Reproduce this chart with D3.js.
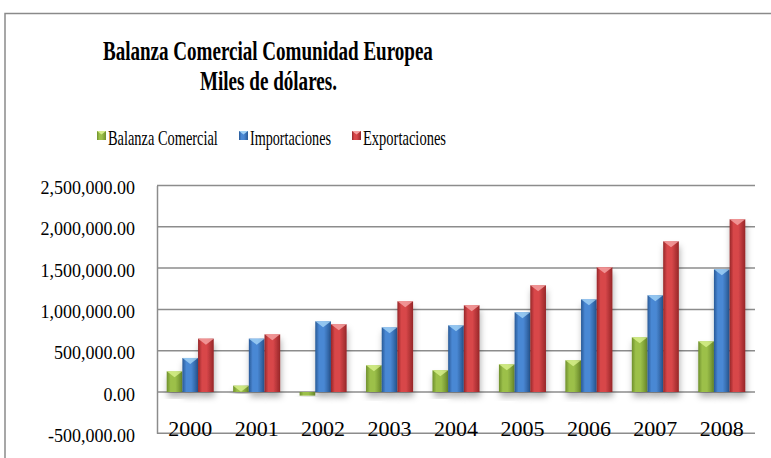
<!DOCTYPE html>
<html>
<head>
<meta charset="utf-8">
<script src="https://cdn.jsdelivr.net/npm/d3@7"></script>
<style>
  body { margin: 0; background: #fff; }
  text { font-family: "Liberation Serif", "Times New Roman", serif; fill: #000; }
</style>
</head>
<body>
<div id="chart"></div>
<script>
// data (miles de dolares)
var years = ["2000","2001","2002","2003","2004","2005","2006","2007","2008"];
var seriesNames = ["Balanza Comercial", "Importaciones", "Exportaciones"];
var balanza = [250000, 77000, -44000, 323000, 263000, 335000, 384000, 662000, 614000];
var importaciones = [412000, 646000, 856000, 783000, 807000, 965000, 1122000, 1171000, 1485000];
var exportaciones = [646000, 698000, 820000, 1098000, 1050000, 1292000, 1510000, 1824000, 2091000];
var yTicks = [-500000, 0, 500000, 1000000, 1500000, 2000000, 2500000];

var colors = [
  {mid: "#9cc04a", edge: "#6e8f2c", top: "#d6ee8a"},
  {mid: "#4a88d4", edge: "#285996", top: "#9fd0f5"},
  {mid: "#d8474a", edge: "#962628", top: "#f4a0a0"}
];

var width = 771,
  height = 458;

var svg = d3.select("#chart").append("svg")
  .attr("width", width)
  .attr("height", height);

var defs = svg.append("defs");
colors.forEach(function(c, i) {
  var g = defs.append("linearGradient")
    .attr("id", "grad" + i)
    .attr("x1", "0%").attr("x2", "100%")
    .attr("y1", "0%").attr("y2", "0%");
  g.append("stop").attr("offset", "0%").attr("stop-color", c.edge);
  g.append("stop").attr("offset", "25%").attr("stop-color", c.mid);
  g.append("stop").attr("offset", "55%").attr("stop-color", c.mid);
  g.append("stop").attr("offset", "100%").attr("stop-color", c.edge);
});
var shadow = defs.append("filter").attr("id", "shadow")
  .attr("x", "-50%").attr("y", "-20%").attr("width", "200%").attr("height", "150%");
shadow.append("feDropShadow")
  .attr("dx", 1).attr("dy", 5)
  .attr("stdDeviation", 3)
  .attr("flood-color", "#000")
  .attr("flood-opacity", 0.3);

// chart frame
svg.append("path")
  .attr("d", "M5,458 L5,13.5 L771,13.5")
  .style("fill", "none")
  .style("stroke", "#8a8a8a")
  .style("stroke-width", 1.5);

// the texts in the picture are narrow, so squeeze them sideways to the measured width
function squeezed(parent, str, x, yy, w, size, bold) {
  var t = parent.append("text")
    .text(str)
    .style("font-size", size + "px")
    .style("font-weight", bold ? "bold" : "normal");
  var sx = w / t.node().getComputedTextLength();
  t.attr("transform", "translate(" + x + "," + yy + ") scale(" + sx + ",1)");
  return t;
}

// title
squeezed(svg, "Balanza Comercial Comunidad Europea", 103, 60, 330, 28, true);
squeezed(svg, "Miles de dólares.", 200, 90, 137, 28, true);

// legend
var legendX = [97, 239, 352];
var legendW = [110, 81, 83];
var legend = svg.append("g");
seriesNames.forEach(function(name, i) {
  legend.append("rect")
    .attr("x", legendX[i]).attr("y", 131)
    .attr("width", 9).attr("height", 9)
    .style("fill", "url(#grad" + i + ")");
  legend.append("path")
    .attr("d", "M" + legendX[i] + ",131 L" + (legendX[i] + 9) + ",131 L" + (legendX[i] + 4.5) + ",134.5 Z")
    .style("fill", colors[i].top);
  squeezed(legend, name, legendX[i] + 11, 145, legendW[i], 20, false);
});

// scales
var x0 = d3.scaleBand()
  .domain(years)
  .range([157, 755]);

var x1 = d3.scaleBand()
  .domain(seriesNames)
  .range([x0.bandwidth() * 0.146, x0.bandwidth() * 0.854]);

var y = d3.scaleLinear()
  .domain([-500000, 2500000])
  .range([433.3, 185.5]);

// gridlines
svg.append("g")
  .selectAll("line")
  .data(yTicks)
  .join("line")
  .attr("x1", 157).attr("x2", 755)
  .attr("y1", function(d) { return y(d); })
  .attr("y2", function(d) { return y(d); })
  .style("stroke", "#8c8c8c")
  .style("stroke-width", 1.5);

// y axis
var fmt = d3.format(",.2f");
var yAxis = d3.axisLeft(y)
  .tickValues(yTicks)
  .tickSize(0)
  .tickPadding(22)
  .tickFormat(function(d) { return fmt(d).replace("−", "-"); });

var yg = svg.append("g")
  .attr("transform", "translate(157,0)")
  .call(yAxis)
  .attr("font-family", "Liberation Serif")
  .attr("font-size", 18);
yg.select(".domain").style("stroke", "#8c8c8c").style("stroke-width", 1.5);
yg.selectAll("text")
  .attr("dy", "8")
  .attr("fill", "#000");

// bars
var rows = years.map(function(yr, i) {
  return [balanza[i], importaciones[i], exportaciones[i]];
});

var groups = svg.append("g")
  .selectAll("g")
  .data(rows)
  .join("g")
  .attr("transform", function(d, i) { return "translate(" + x0(years[i]) + ",0)"; });

var bar = groups.selectAll("g")
  .data(function(d) { return d.map(function(v, j) { return {v: v, j: j}; }); })
  .join("g");

bar.append("rect")
  .attr("x", function(d) { return x1(seriesNames[d.j]); })
  .attr("y", function(d) { return Math.min(y(d.v), y(0)); })
  .attr("width", x1.bandwidth())
  .attr("height", function(d) { return Math.abs(y(d.v) - y(0)); })
  .attr("filter", "url(#shadow)")
  .style("fill", function(d) { return "url(#grad" + d.j + ")"; });

bar.filter(function(d) { return d.v > 0; })
  .append("path")
  .attr("d", function(d) {
    var bx = x1(seriesNames[d.j]), bw = x1.bandwidth(), ty = y(d.v);
    return "M" + bx + "," + ty + " L" + (bx + bw) + "," + ty + " L" + (bx + bw / 2) + "," + (ty + 6) + " Z";
  })
  .style("fill", function(d) { return colors[d.j].top; })
  .style("opacity", 0.85);

// category labels sit at the bottom of the plot
var xAxis = d3.axisBottom(x0).tickSize(0).tickPadding(0);
var xg = svg.append("g")
  .attr("transform", "translate(0,420)")
  .call(xAxis)
  .attr("font-family", "Liberation Serif")
  .attr("font-size", 22);
xg.select(".domain").remove();
xg.selectAll("text")
  .attr("dy", "16")
  .attr("fill", "#000");
</script>
</body>
</html>
